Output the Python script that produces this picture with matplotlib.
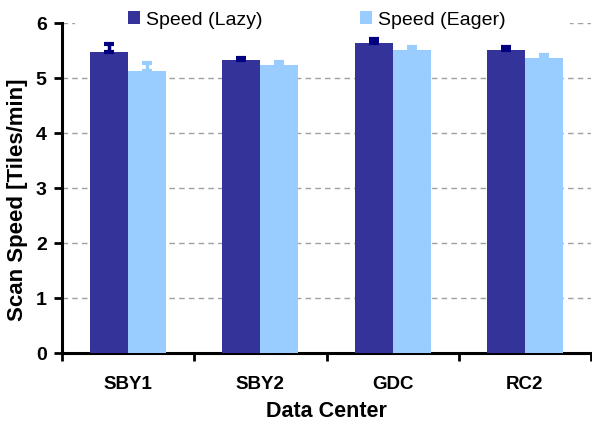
import matplotlib
matplotlib.use("Agg")
import matplotlib.pyplot as plt
import numpy as np
from matplotlib.patches import Rectangle

categories = ["SBY1", "SBY2", "GDC", "RC2"]
lazy = [5.47, 5.33, 5.64, 5.52]
lazy_err = [0.15, 0.04, 0.07, 0.05]
eager = [5.13, 5.24, 5.52, 5.37]
eager_err = [0.15, 0.05, 0.05, 0.05]
yticks = [0, 1, 2, 3, 4, 5, 6]

plt.rcParams['font.family'] = ['Liberation Sans', 'DejaVu Sans']

fig = plt.figure(figsize=(5.92, 4.21), dpi=100)
ax = fig.add_axes([62/592, 1-353.3/421, 529/592, (353.3-23.3)/421])

x = np.arange(len(categories))
w = 0.287
ax.set_axisbelow(True)
ax.yaxis.grid(True, linestyle=(0, (4, 3)), color='#a0a0a0', linewidth=1)
ax.bar(x - w/2, lazy, w, color='#333399', zorder=3, label='Speed (Lazy)')
ax.bar(x + w/2, eager, w, color='#99CCFF', zorder=3, label='Speed (Eager)')
ax.errorbar(x - w/2, lazy, yerr=[np.zeros(4), lazy_err], fmt='none', ecolor='#000080',
            elinewidth=2.5, capsize=3.5, capthick=3, zorder=4)
ax.errorbar(x + w/2, eager, yerr=[np.zeros(4), eager_err], fmt='none', ecolor='#99CCFF',
            elinewidth=2.5, capsize=3.5, capthick=3, zorder=4)

ax.set_xlim(-0.5, 3.5)
ax.set_ylim(0, 6)
ax.set_yticks(yticks)
ax.set_yticklabels([str(t) for t in yticks], fontsize=14, fontweight='bold')
ax.set_xticks(x)
ax.set_xticklabels(categories, fontsize=13.5, fontweight='bold')
ax.set_xticks(np.arange(-0.5, 4, 1), minor=True)
ax.tick_params(axis='x', which='major', length=0, pad=16)
ax.tick_params(axis='x', which='minor', length=6, width=2, direction='out')
ax.tick_params(axis='y', which='major', length=6, width=2, direction='out', pad=5)
for s in ['top', 'right']:
    ax.spines[s].set_visible(False)
for s in ['left', 'bottom']:
    ax.spines[s].set_linewidth(2.2)

ax.set_ylabel('Scan Speed [Tiles/min]', fontsize=16, fontweight='bold')
ax.yaxis.set_label_coords((28-62)/529, (353.3-200)/330)
ax.set_xlabel('Data Center', fontsize=15.5, fontweight='bold', labelpad=6)

# white background behind legend (covers top gridline)
ax.add_patch(Rectangle(((75-62)/529, 0.97), (570-75)/529, 0.06, transform=ax.transAxes,
                       facecolor='white', edgecolor='none', zorder=2, clip_on=False))

leg = ax.legend(loc='center', bbox_to_anchor=(317/592, 1-20/421), bbox_transform=fig.transFigure,
                ncol=2, frameon=False, fontsize=14, handlelength=0.62, handleheight=0.62,
                handletextpad=0.3, columnspacing=5.0, borderpad=0.1)

fig.savefig('out.png', dpi=100)
